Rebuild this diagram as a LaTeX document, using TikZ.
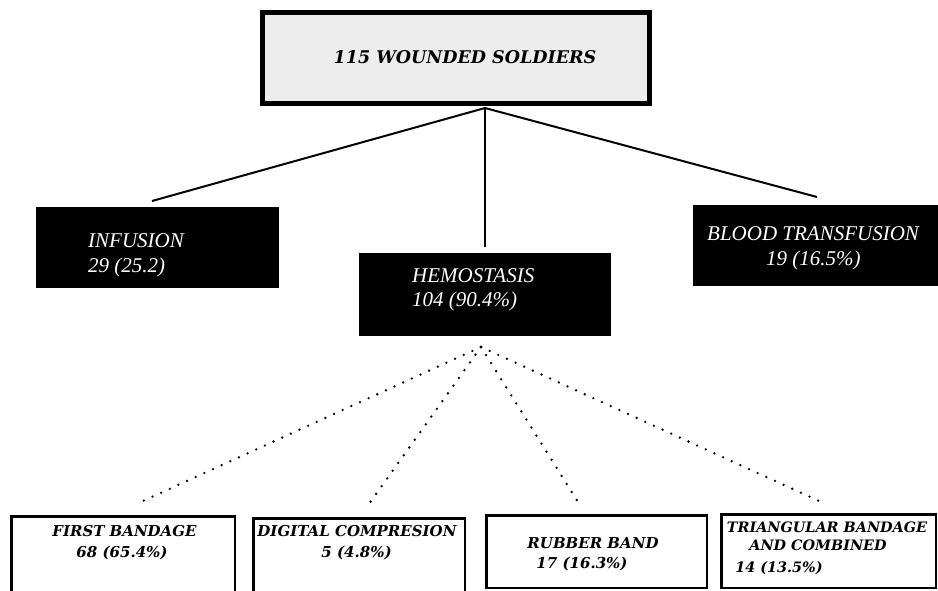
\documentclass[tikz,border=0pt]{standalone}
\usepackage{fontspec}
\setmainfont{DejaVu Serif}
\newfontfamily\midfont{Liberation Serif}
\usetikzlibrary{calc}
\begin{document}
\begin{tikzpicture}[x=1pt,y=-1pt,
  box/.style={draw, inner sep=0pt, outer sep=0pt, anchor=north west},
  topbox/.style={box, line width=5pt, fill=black!7},
  darkbox/.style={box, fill=black, draw=none},
  botbox/.style={box, line width=2.5pt, fill=white},
  toptext/.style={font=\fontsize{17.5}{20}\selectfont\bfseries\itshape, anchor=base, inner sep=0pt},
  bottext/.style={font=\fontsize{15}{18}\selectfont\bfseries\itshape, anchor=base, inner sep=0pt},
  smalltext/.style={bottext, font=\fontsize{14.4}{17}\selectfont\bfseries\itshape},
  midtext/.style={font=\midfont\fontsize{21}{24}\selectfont\itshape, text=white, anchor=base west, inner sep=0pt},
  link/.style={line width=2pt},
  dotlink/.style={line width=2.6pt, line cap=round, dash pattern=on 0pt off 9.5pt}]
\useasboundingbox (0,0) rectangle (938,590);
\clip (0,0) rectangle (938,590);
\fill[white] (0,0) rectangle (938,590);

% boxes
\node[topbox, minimum width=387pt, minimum height=91pt] (top) at (262.5,12.5) {};
\node[darkbox, minimum width=243pt, minimum height=81pt] (inf) at (36,207) {};
\node[darkbox, minimum width=252pt, minimum height=83pt] (hem) at (359,253) {};
\node[darkbox, minimum width=250pt, minimum height=81pt] (blood) at (693,205) {};
\node[botbox, minimum width=223.5pt, minimum height=100pt] (fb) at (11.25,516.25) {};
\node[botbox, minimum width=211.5pt, minimum height=100pt] (dc) at (253.25,518.25) {};
\node[botbox, minimum width=220.5pt, minimum height=72.5pt] (rb) at (486.25,515.25) {};
\node[botbox, minimum width=214.5pt, minimum height=73.5pt] (tb) at (721.25,514.25) {};

% texts
\node[toptext] (ttop) at (465,63) {115 WOUNDED SOLDIERS};
\node[midtext] (tinf1) at (88,247) {INFUSION};
\node[midtext] (tinf2) at (88,272) {29 (25.2)};
\node[midtext] (themo1) at (412,282) {HEMOSTASIS};
\node[midtext] (themo2) at (412,306) {104 (90.4\%)};
\node[midtext] (tbl1) at (707,240) {BLOOD TRANSFUSION};
\node[midtext] (tbl2) at (766,265) {19 (16.5\%)};
\node[bottext] (tfb1) at (124.5,536) {FIRST BANDAGE};
\node[bottext] (tfb2) at (122,557) {68 (65.4\%)};
\node[bottext] (tdc1) at (357,536) {DIGITAL COMPRESION};
\node[bottext] (tdc2) at (356.5,557) {5 (4.8\%)};
\node[bottext] (trb1) at (593,548) {RUBBER BAND};
\node[bottext] (trb2) at (582,568) {17 (16.3\%)};
\node[smalltext] (ttb1) at (827,532) {TRIANGULAR BANDAGE};
\node[smalltext] (ttb2) at (818,550) {AND COMBINED};
\node[smalltext] (ttb3) at (779,572) {14 (13.5\%)};

% connectors
\coordinate (apex) at (485,108);
\coordinate (dapex) at ($(hem.south west)+(122,11)$);
\draw[link] (apex) -- ($(inf.north west)+(116,-6)$);
\draw[link] (apex) -- ($(hem.north west)+(126,-6)$);
\draw[link] (apex) -- ($(blood.north west)+(124,-8)$);
\draw[dotlink] (dapex) -- ($(fb.north west)+(126.75,-13)$);
\draw[dotlink] (dapex) -- ($(dc.north west)+(114.75,-13)$);
\draw[dotlink] (dapex) -- ($(rb.north west)+(93.75,-10)$);
\draw[dotlink] (dapex) -- ($(tb.north west)+(105,-10)$);
\end{tikzpicture}
\end{document}
